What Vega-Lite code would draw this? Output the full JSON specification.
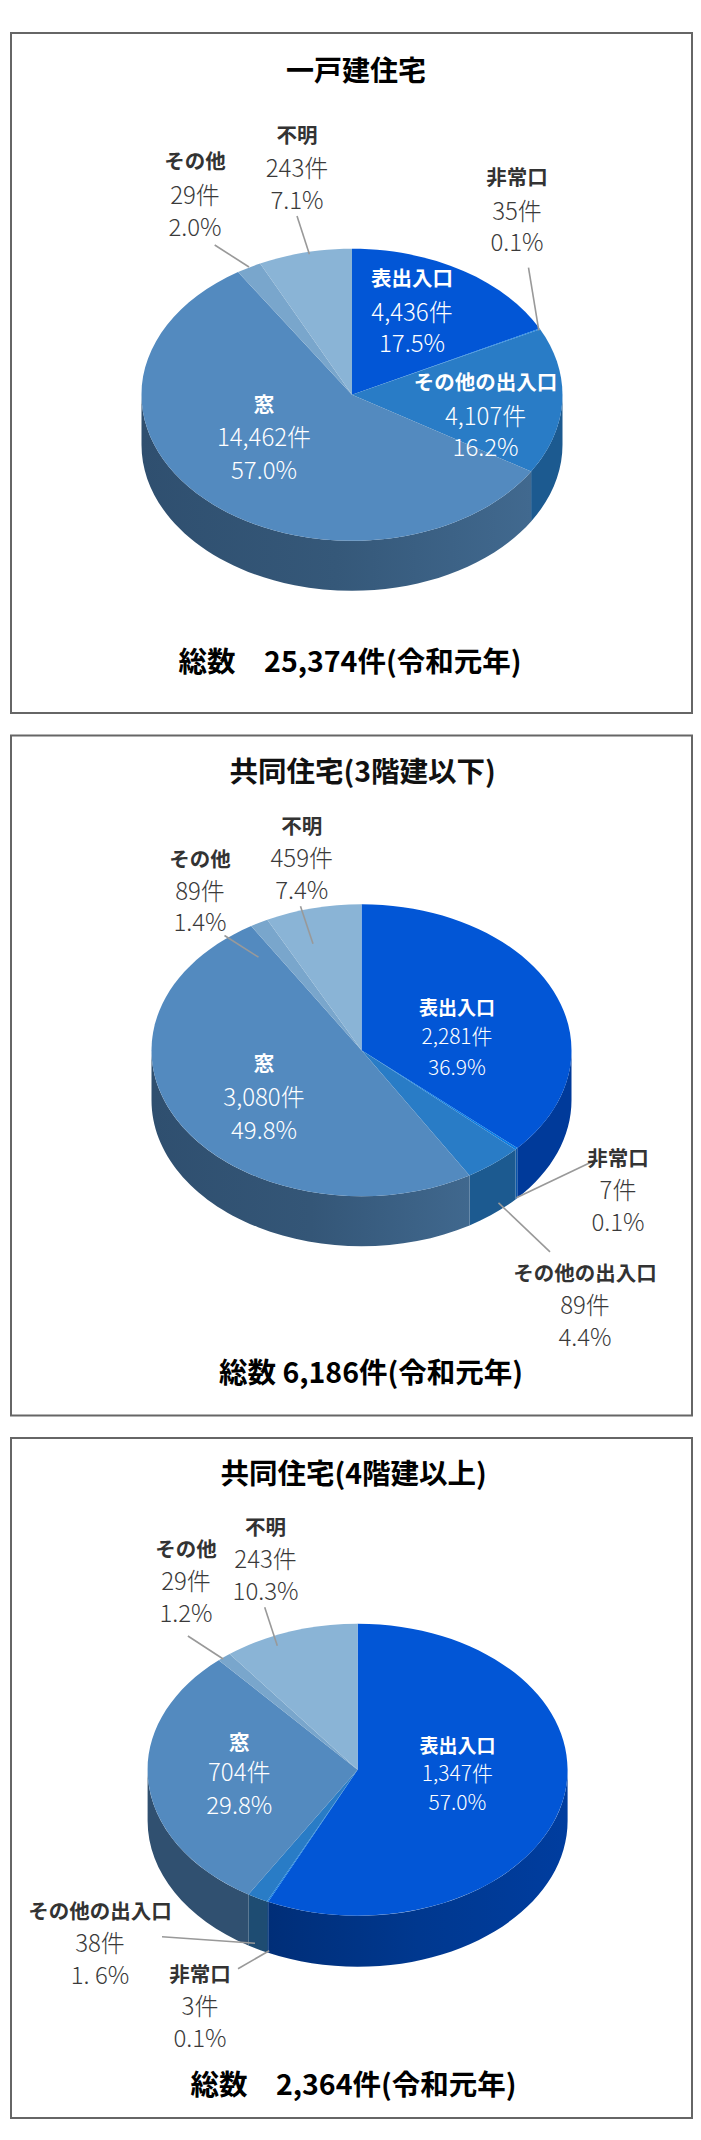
{
"$schema":"https://vega.github.io/schema/vega-lite/v6.json",
"padding":{"left":10,"top":32,"right":0,"bottom":0},
"background":"white",
"config":{"view":{"stroke":"#666666","strokeWidth":2},"font":"Noto Sans CJK JP"},
"datasets":{
"slices":[
{"panel":"一戸建住宅","category":"表出入口","count":4436,"countLabel":"4,436件","share":17.5,"shareLabel":"17.5%"},
{"panel":"一戸建住宅","category":"非常口","count":35,"countLabel":"35件","share":0.1,"shareLabel":"0.1%"},
{"panel":"一戸建住宅","category":"その他の出入口","count":4107,"countLabel":"4,107件","share":16.2,"shareLabel":"16.2%"},
{"panel":"一戸建住宅","category":"窓","count":14462,"countLabel":"14,462件","share":57.0,"shareLabel":"57.0%"},
{"panel":"一戸建住宅","category":"その他","count":29,"countLabel":"29件","share":2.0,"shareLabel":"2.0%"},
{"panel":"一戸建住宅","category":"不明","count":243,"countLabel":"243件","share":7.1,"shareLabel":"7.1%"},
{"panel":"共同住宅(3階建以下)","category":"表出入口","count":2281,"countLabel":"2,281件","share":36.9,"shareLabel":"36.9%"},
{"panel":"共同住宅(3階建以下)","category":"非常口","count":7,"countLabel":"7件","share":0.1,"shareLabel":"0.1%"},
{"panel":"共同住宅(3階建以下)","category":"その他の出入口","count":89,"countLabel":"89件","share":4.4,"shareLabel":"4.4%"},
{"panel":"共同住宅(3階建以下)","category":"窓","count":3080,"countLabel":"3,080件","share":49.8,"shareLabel":"49.8%"},
{"panel":"共同住宅(3階建以下)","category":"その他","count":89,"countLabel":"89件","share":1.4,"shareLabel":"1.4%"},
{"panel":"共同住宅(3階建以下)","category":"不明","count":459,"countLabel":"459件","share":7.4,"shareLabel":"7.4%"},
{"panel":"共同住宅(4階建以上)","category":"表出入口","count":1347,"countLabel":"1,347件","share":57.0,"shareLabel":"57.0%"},
{"panel":"共同住宅(4階建以上)","category":"非常口","count":3,"countLabel":"3件","share":0.1,"shareLabel":"0.1%"},
{"panel":"共同住宅(4階建以上)","category":"その他の出入口","count":38,"countLabel":"38件","share":1.6,"shareLabel":"1. 6%"},
{"panel":"共同住宅(4階建以上)","category":"窓","count":704,"countLabel":"704件","share":29.8,"shareLabel":"29.8%"},
{"panel":"共同住宅(4階建以上)","category":"その他","count":29,"countLabel":"29件","share":1.2,"shareLabel":"1.2%"},
{"panel":"共同住宅(4階建以上)","category":"不明","count":243,"countLabel":"243件","share":10.3,"shareLabel":"10.3%"}
],
"captions":[
{"panel":"一戸建住宅","title":"一戸建住宅","total":"総数　25,374件(令和元年)"},
{"panel":"共同住宅(3階建以下)","title":"共同住宅(3階建以下)","total":"総数 6,186件(令和元年)"},
{"panel":"共同住宅(4階建以上)","title":"共同住宅(4階建以上)","total":"総数　2,364件(令和元年)"}
]},
"resolve":{"scale":{"shape":"independent","x":"independent","y":"independent"}},
"spacing":20.5,
"vconcat":[
{"width":681,"height":680,
"data":{"name":"slices"},
"transform":[{"filter":"datum.panel==='一戸建住宅'"},
{"calculate":"{'表出入口':[401,247.3,279,310.7],'非常口':[506,146.3,178,209.7],'その他の出入口':[474.6,350.7,383,414.7],'窓':[253,373,404.7,437],'その他':[184,130.3,162.3,194],'不明':[286,103.7,135.3,167.3]}[datum.category]","as":"p"},
{"calculate":"{'非常口':[517.5,234.7,527.8,297.3],'その他':[203.7,212,238,234],'不明':[286,183,298.4,221.3]}[datum.category]","as":"q"},
{"calculate":"datum.p[0]","as":"lx"},{"calculate":"datum.p[1]","as":"l0"},{"calculate":"datum.p[2]","as":"l1"},{"calculate":"datum.p[3]","as":"l2"},
{"calculate":"datum.q?datum.q[0]:null","as":"ax"},{"calculate":"datum.q?datum.q[1]:null","as":"ay"},{"calculate":"datum.q?datum.q[2]:null","as":"bx"},{"calculate":"datum.q?datum.q[3]:null","as":"by"}],
"layer":[
{"transform":[{"filter":"datum.category==='その他の出入口'"}],"mark":{"type":"point","filled":true,"opacity":1,"size":4,"fill":"#1C5A90","shape":"M210.5,0 A210.5,146 0 0 1 179.1,76.7 L179.1,126.7 A210.5,146 0 0 0 210.5,50 Z"},"encoding":{"x":{"datum":341,"type":"quantitative","scale":{"domain":[0,681],"nice":false,"zero":false},"axis":null},"y":{"datum":361.8,"type":"quantitative","scale":{"domain":[680,0],"nice":false,"zero":false},"axis":null}}},
{"transform":[{"filter":"datum.category==='窓'"}],"mark":{"type":"point","filled":true,"opacity":1,"size":4,"fill":{"gradient":"linear","x1":0,"y1":0,"x2":1,"y2":0,"stops":[{"offset":0,"color":"#2F4F6F"},{"offset":0.5,"color":"#355879"},{"offset":1,"color":"#41698F"}]},"shape":"M179.1,76.7 A210.5,146 0 0 1 -210.5,0 L-210.5,50 A210.5,146 0 0 0 179.1,126.7 Z"},"encoding":{"x":{"datum":341,"type":"quantitative","scale":{"domain":[0,681],"nice":false,"zero":false},"axis":null},"y":{"datum":361.8,"type":"quantitative","scale":{"domain":[680,0],"nice":false,"zero":false},"axis":null}}},
{"mark":{"type":"point","filled":true,"opacity":1,"size":4},"encoding":{"x":{"datum":341,"type":"quantitative","scale":{"domain":[0,681],"nice":false,"zero":false},"axis":null},"y":{"datum":361.8,"type":"quantitative","scale":{"domain":[680,0],"nice":false,"zero":false},"axis":null},
"color":{"field":"category","type":"nominal","legend":null,"scale":{"domain":["表出入口","非常口","その他の出入口","窓","その他","不明"],"range":["#0256D6","#0A7CE4","#297CC6","#538ABF","#79A6CC","#8AB4D6"]}},
"shape":{"field":"category","type":"nominal","legend":null,"scale":{"domain":["表出入口","非常口","その他の出入口","窓","その他","不明"],"range":["M0,0 L0,-146 A210.5,146 0 0 1 187.6,-66.3 Z","M0,0 L187.6,-66.3 A210.5,146 0 0 1 188.1,-65.5 Z","M0,0 L188.1,-65.5 A210.5,146 0 0 1 179.1,76.7 Z","M0,0 L179.1,76.7 A210.5,146 0 0 1 -210.5,0 A210.5,146 0 0 1 -114,-122.7 Z","M0,0 L-114,-122.7 A210.5,146 0 0 1 -91.9,-131.3 Z","M0,0 L-91.9,-131.3 A210.5,146 0 0 1 0,-146 Z"]}}}},
{"transform":[{"filter":"datum.q"}],"mark":{"type":"rule","color":"#999999","strokeWidth":1.6},"encoding":{"x":{"field":"ax","type":"quantitative","scale":{"domain":[0,681],"nice":false,"zero":false},"axis":null},"y":{"field":"ay","type":"quantitative","scale":{"domain":[680,0],"nice":false,"zero":false},"axis":null},"x2":{"field":"bx"},"y2":{"field":"by"}}},
{"mark":{"type":"text","fontWeight":"bold","fontSize":20.5,"baseline":"middle"},"encoding":{"x":{"field":"lx","type":"quantitative","scale":{"domain":[0,681],"nice":false,"zero":false},"axis":null},"y":{"field":"l0","type":"quantitative","scale":{"domain":[680,0],"nice":false,"zero":false},"axis":null},"text":{"field":"category"},"color":{"condition":{"test":"datum.category==='表出入口'||datum.category==='その他の出入口'||datum.category==='窓'","value":"#ffffff"},"value":"#333333"}}},
{"mark":{"type":"text","fontWeight":300,"fontSize":24,"baseline":"middle","dy":1.5},"encoding":{"x":{"field":"lx","type":"quantitative","scale":{"domain":[0,681],"nice":false,"zero":false},"axis":null},"y":{"field":"l1","type":"quantitative","scale":{"domain":[680,0],"nice":false,"zero":false},"axis":null},"text":{"field":"countLabel"},"color":{"condition":{"test":"datum.category==='表出入口'||datum.category==='その他の出入口'||datum.category==='窓'","value":"#ffffff"},"value":"#3a3a3a"}}},
{"mark":{"type":"text","fontWeight":300,"fontSize":24,"baseline":"middle","dy":1.5},"encoding":{"x":{"field":"lx","type":"quantitative","scale":{"domain":[0,681],"nice":false,"zero":false},"axis":null},"y":{"field":"l2","type":"quantitative","scale":{"domain":[680,0],"nice":false,"zero":false},"axis":null},"text":{"field":"shareLabel"},"color":{"condition":{"test":"datum.category==='表出入口'||datum.category==='その他の出入口'||datum.category==='窓'","value":"#ffffff"},"value":"#3a3a3a"}}},
{"data":{"name":"captions"},"transform":[{"filter":"datum.panel==='一戸建住宅'"}],"mark":{"type":"text","fontWeight":"bold","fontSize":28,"baseline":"middle","color":"#000000","dy":1},"encoding":{"x":{"datum":345,"type":"quantitative","scale":{"domain":[0,681],"nice":false,"zero":false},"axis":null},"y":{"datum":38.7,"type":"quantitative","scale":{"domain":[680,0],"nice":false,"zero":false},"axis":null},"text":{"field":"title"}}},
{"data":{"name":"captions"},"transform":[{"filter":"datum.panel==='一戸建住宅'"}],"mark":{"type":"text","fontWeight":"bold","fontSize":28.5,"baseline":"middle","color":"#000000"},"encoding":{"x":{"datum":339,"type":"quantitative","scale":{"domain":[0,681],"nice":false,"zero":false},"axis":null},"y":{"datum":630,"type":"quantitative","scale":{"domain":[680,0],"nice":false,"zero":false},"axis":null},"text":{"field":"total"}}}
]},
{"width":681,"height":680,
"data":{"name":"slices"},
"transform":[{"filter":"datum.panel==='共同住宅(3階建以下)'"},
{"calculate":"{'表出入口':[446,271.7,300,331],'非常口':[607,422.3,454.3,486],'その他の出入口':[574,537.7,569.3,601.7],'窓':[253,327,361.7,394],'その他':[189,123.3,155,186.7],'不明':[290.8,90.7,122.3,154.3]}[datum.category]","as":"p"},
{"calculate":"{'非常口':[580,426.7,505.4,462.3],'その他の出入口':[539,516.3,487.5,467.3],'その他':[213.5,200,247.5,221.7],'不明':[289.5,170.7,302,208.3]}[datum.category]","as":"q"},
{"calculate":"datum.p[0]","as":"lx"},{"calculate":"datum.p[1]","as":"l0"},{"calculate":"datum.p[2]","as":"l1"},{"calculate":"datum.p[3]","as":"l2"},
{"calculate":"datum.q?datum.q[0]:null","as":"ax"},{"calculate":"datum.q?datum.q[1]:null","as":"ay"},{"calculate":"datum.q?datum.q[2]:null","as":"bx"},{"calculate":"datum.q?datum.q[3]:null","as":"by"}],
"layer":[
{"transform":[{"filter":"datum.category==='表出入口'"}],"mark":{"type":"point","filled":true,"opacity":1,"size":4,"fill":"#003A9A","shape":"M210,0 A210,146 0 0 1 155.8,97.9 L155.8,147.9 A210,146 0 0 0 210,50 Z"},"encoding":{"x":{"datum":350.5,"type":"quantitative","scale":{"domain":[0,681],"nice":false,"zero":false},"axis":null},"y":{"datum":314.7,"type":"quantitative","scale":{"domain":[680,0],"nice":false,"zero":false},"axis":null}}},
{"transform":[{"filter":"datum.category==='非常口'"}],"mark":{"type":"point","filled":true,"opacity":1,"size":4,"fill":"#0A55A8","shape":"M155.8,97.9 A210,146 0 0 1 154,99.3 L154,149.3 A210,146 0 0 0 155.8,147.9 Z"},"encoding":{"x":{"datum":350.5,"type":"quantitative","scale":{"domain":[0,681],"nice":false,"zero":false},"axis":null},"y":{"datum":314.7,"type":"quantitative","scale":{"domain":[680,0],"nice":false,"zero":false},"axis":null}}},
{"transform":[{"filter":"datum.category==='その他の出入口'"}],"mark":{"type":"point","filled":true,"opacity":1,"size":4,"fill":"#1C5A90","shape":"M154,99.3 A210,146 0 0 1 108,125.2 L108,175.2 A210,146 0 0 0 154,149.3 Z"},"encoding":{"x":{"datum":350.5,"type":"quantitative","scale":{"domain":[0,681],"nice":false,"zero":false},"axis":null},"y":{"datum":314.7,"type":"quantitative","scale":{"domain":[680,0],"nice":false,"zero":false},"axis":null}}},
{"transform":[{"filter":"datum.category==='窓'"}],"mark":{"type":"point","filled":true,"opacity":1,"size":4,"fill":{"gradient":"linear","x1":0,"y1":0,"x2":1,"y2":0,"stops":[{"offset":0,"color":"#2F4F6F"},{"offset":0.5,"color":"#345677"},{"offset":1,"color":"#40688E"}]},"shape":"M108,125.2 A210,146 0 0 1 -210,0 L-210,50 A210,146 0 0 0 108,175.2 Z"},"encoding":{"x":{"datum":350.5,"type":"quantitative","scale":{"domain":[0,681],"nice":false,"zero":false},"axis":null},"y":{"datum":314.7,"type":"quantitative","scale":{"domain":[680,0],"nice":false,"zero":false},"axis":null}}},
{"mark":{"type":"point","filled":true,"opacity":1,"size":4},"encoding":{"x":{"datum":350.5,"type":"quantitative","scale":{"domain":[0,681],"nice":false,"zero":false},"axis":null},"y":{"datum":314.7,"type":"quantitative","scale":{"domain":[680,0],"nice":false,"zero":false},"axis":null},
"color":{"field":"category","type":"nominal","legend":null,"scale":{"domain":["表出入口","非常口","その他の出入口","窓","その他","不明"],"range":["#0256D6","#0A7CE4","#297CC6","#538ABF","#79A6CC","#8AB4D6"]}},
"shape":{"field":"category","type":"nominal","legend":null,"scale":{"domain":["表出入口","非常口","その他の出入口","窓","その他","不明"],"range":["M0,0 L0,-146 A210,146 0 0 1 155.8,97.9 Z","M0,0 L155.8,97.9 A210,146 0 0 1 154,99.3 Z","M0,0 L154,99.3 A210,146 0 0 1 108,125.2 Z","M0,0 L108,125.2 A210,146 0 0 1 -210,0 A210,146 0 0 1 -110.3,-124.2 Z","M0,0 L-110.3,-124.2 A210,146 0 0 1 -94.2,-130.5 Z","M0,0 L-94.2,-130.5 A210,146 0 0 1 0,-146 Z"]}}}},
{"transform":[{"filter":"datum.q"}],"mark":{"type":"rule","color":"#999999","strokeWidth":1.6},"encoding":{"x":{"field":"ax","type":"quantitative","scale":{"domain":[0,681],"nice":false,"zero":false},"axis":null},"y":{"field":"ay","type":"quantitative","scale":{"domain":[680,0],"nice":false,"zero":false},"axis":null},"x2":{"field":"bx"},"y2":{"field":"by"}}},
{"mark":{"type":"text","fontWeight":"bold","baseline":"middle","dy":2},"encoding":{"x":{"field":"lx","type":"quantitative","scale":{"domain":[0,681],"nice":false,"zero":false},"axis":null},"y":{"field":"l0","type":"quantitative","scale":{"domain":[680,0],"nice":false,"zero":false},"axis":null},"text":{"field":"category"},"size":{"condition":{"test":"datum.category==='表出入口'","value":19},"value":20.5},"color":{"condition":{"test":"datum.category==='表出入口'||datum.category==='窓'","value":"#ffffff"},"value":"#333333"}}},
{"mark":{"type":"text","fontWeight":300,"baseline":"middle","dy":2},"encoding":{"x":{"field":"lx","type":"quantitative","scale":{"domain":[0,681],"nice":false,"zero":false},"axis":null},"y":{"field":"l1","type":"quantitative","scale":{"domain":[680,0],"nice":false,"zero":false},"axis":null},"text":{"field":"countLabel"},"size":{"condition":{"test":"datum.category==='表出入口'","value":21},"value":24},"color":{"condition":{"test":"datum.category==='表出入口'||datum.category==='窓'","value":"#ffffff"},"value":"#3a3a3a"}}},
{"mark":{"type":"text","fontWeight":300,"baseline":"middle","dy":2},"encoding":{"x":{"field":"lx","type":"quantitative","scale":{"domain":[0,681],"nice":false,"zero":false},"axis":null},"y":{"field":"l2","type":"quantitative","scale":{"domain":[680,0],"nice":false,"zero":false},"axis":null},"text":{"field":"shareLabel"},"size":{"condition":{"test":"datum.category==='表出入口'","value":21},"value":24},"color":{"condition":{"test":"datum.category==='表出入口'||datum.category==='窓'","value":"#ffffff"},"value":"#3a3a3a"}}},
{"data":{"name":"captions"},"transform":[{"filter":"datum.panel==='共同住宅(3階建以下)'"}],"mark":{"type":"text","fontWeight":"bold","fontSize":28.5,"baseline":"middle","color":"#111111","dy":2},"encoding":{"x":{"datum":351.7,"type":"quantitative","scale":{"domain":[0,681],"nice":false,"zero":false},"axis":null},"y":{"datum":35,"type":"quantitative","scale":{"domain":[680,0],"nice":false,"zero":false},"axis":null},"text":{"field":"title"}}},
{"data":{"name":"captions"},"transform":[{"filter":"datum.panel==='共同住宅(3階建以下)'"}],"mark":{"type":"text","fontWeight":"bold","fontSize":28.5,"baseline":"middle","color":"#000000","dy":1},"encoding":{"x":{"datum":360,"type":"quantitative","scale":{"domain":[0,681],"nice":false,"zero":false},"axis":null},"y":{"datum":637.7,"type":"quantitative","scale":{"domain":[680,0],"nice":false,"zero":false},"axis":null},"text":{"field":"total"}}}
]},
{"width":681,"height":680,
"data":{"name":"slices"},
"transform":[{"filter":"datum.panel==='共同住宅(4階建以上)'"},
{"calculate":"{'表出入口':[446.4,307,335.3,364.3],'非常口':[189,536.3,568.7,600.3],'その他の出入口':[89,473,505.3,537],'窓':[228.3,304.3,334.7,367.7],'その他':[175,111.3,143.7,175.3],'不明':[254.6,89.7,121.3,153]}[datum.category]","as":"p"},
{"calculate":"{'非常口':[227,530.7,258.2,512.7],'その他の出入口':[151,498.7,244,505.3],'その他':[176.9,198,212.2,221],'不明':[253.7,169.3,266.3,207.7]}[datum.category]","as":"q"},
{"calculate":"datum.p[0]","as":"lx"},{"calculate":"datum.p[1]","as":"l0"},{"calculate":"datum.p[2]","as":"l1"},{"calculate":"datum.p[3]","as":"l2"},
{"calculate":"datum.q?datum.q[0]:null","as":"ax"},{"calculate":"datum.q?datum.q[1]:null","as":"ay"},{"calculate":"datum.q?datum.q[2]:null","as":"bx"},{"calculate":"datum.q?datum.q[3]:null","as":"by"}],
"layer":[
{"transform":[{"filter":"datum.category==='表出入口'"}],"mark":{"type":"point","filled":true,"opacity":1,"size":4,"fill":{"gradient":"linear","x1":0,"y1":0,"x2":1,"y2":0,"stops":[{"offset":0,"color":"#002E78"},{"offset":0.5,"color":"#00388F"},{"offset":1,"color":"#003D9F"}]},"shape":"M210,0 A210,146 0 0 1 0,146 A210,146 0 0 1 -89.4,132.1 L-89.4,183.1 A210,146 0 0 0 0,197 A210,146 0 0 0 210,51 Z"},"encoding":{"x":{"datum":346.6,"type":"quantitative","scale":{"domain":[0,681],"nice":false,"zero":false},"axis":null},"y":{"datum":331.7,"type":"quantitative","scale":{"domain":[680,0],"nice":false,"zero":false},"axis":null}}},
{"transform":[{"filter":"datum.category==='非常口'"}],"mark":{"type":"point","filled":true,"opacity":1,"size":4,"fill":"#1A4A80","shape":"M-89.4,132.1 A210,146 0 0 1 -90.6,131.7 L-90.6,182.7 A210,146 0 0 0 -89.4,183.1 Z"},"encoding":{"x":{"datum":346.6,"type":"quantitative","scale":{"domain":[0,681],"nice":false,"zero":false},"axis":null},"y":{"datum":331.7,"type":"quantitative","scale":{"domain":[680,0],"nice":false,"zero":false},"axis":null}}},
{"transform":[{"filter":"datum.category==='その他の出入口'"}],"mark":{"type":"point","filled":true,"opacity":1,"size":4,"fill":"#1E4C72","shape":"M-90.6,131.7 A210,146 0 0 1 -109.2,124.7 L-109.2,175.7 A210,146 0 0 0 -90.6,182.7 Z"},"encoding":{"x":{"datum":346.6,"type":"quantitative","scale":{"domain":[0,681],"nice":false,"zero":false},"axis":null},"y":{"datum":331.7,"type":"quantitative","scale":{"domain":[680,0],"nice":false,"zero":false},"axis":null}}},
{"transform":[{"filter":"datum.category==='窓'"}],"mark":{"type":"point","filled":true,"opacity":1,"size":4,"fill":"#305070","shape":"M-109.2,124.7 A210,146 0 0 1 -210,0 L-210,51 A210,146 0 0 0 -109.2,175.7 Z"},"encoding":{"x":{"datum":346.6,"type":"quantitative","scale":{"domain":[0,681],"nice":false,"zero":false},"axis":null},"y":{"datum":331.7,"type":"quantitative","scale":{"domain":[680,0],"nice":false,"zero":false},"axis":null}}},
{"mark":{"type":"point","filled":true,"opacity":1,"size":4},"encoding":{"x":{"datum":346.6,"type":"quantitative","scale":{"domain":[0,681],"nice":false,"zero":false},"axis":null},"y":{"datum":331.7,"type":"quantitative","scale":{"domain":[680,0],"nice":false,"zero":false},"axis":null},
"color":{"field":"category","type":"nominal","legend":null,"scale":{"domain":["表出入口","非常口","その他の出入口","窓","その他","不明"],"range":["#0256D6","#0A7CE4","#297CC6","#538ABF","#79A6CC","#8AB4D6"]}},
"shape":{"field":"category","type":"nominal","legend":null,"scale":{"domain":["表出入口","非常口","その他の出入口","窓","その他","不明"],"range":["M0,0 L0,-146 A210,146 0 0 1 210,0 A210,146 0 0 1 -89.4,132.1 Z","M0,0 L-89.4,132.1 A210,146 0 0 1 -90.6,131.7 Z","M0,0 L-90.6,131.7 A210,146 0 0 1 -109.2,124.7 Z","M0,0 L-109.2,124.7 A210,146 0 0 1 -138.9,-109.5 Z","M0,0 L-138.9,-109.5 A210,146 0 0 1 -128,-115.7 Z","M0,0 L-128,-115.7 A210,146 0 0 1 0,-146 Z"]}}}},
{"transform":[{"filter":"datum.q"}],"mark":{"type":"rule","color":"#999999","strokeWidth":1.6},"encoding":{"x":{"field":"ax","type":"quantitative","scale":{"domain":[0,681],"nice":false,"zero":false},"axis":null},"y":{"field":"ay","type":"quantitative","scale":{"domain":[680,0],"nice":false,"zero":false},"axis":null},"x2":{"field":"bx"},"y2":{"field":"by"}}},
{"mark":{"type":"text","fontWeight":"bold","baseline":"middle","dy":1.5},"encoding":{"x":{"field":"lx","type":"quantitative","scale":{"domain":[0,681],"nice":false,"zero":false},"axis":null},"y":{"field":"l0","type":"quantitative","scale":{"domain":[680,0],"nice":false,"zero":false},"axis":null},"text":{"field":"category"},"size":{"condition":{"test":"datum.category==='表出入口'","value":19},"value":20.5},"color":{"condition":{"test":"datum.category==='表出入口'||datum.category==='窓'","value":"#ffffff"},"value":"#333333"}}},
{"mark":{"type":"text","fontWeight":300,"baseline":"middle","dy":1.5},"encoding":{"x":{"field":"lx","type":"quantitative","scale":{"domain":[0,681],"nice":false,"zero":false},"axis":null},"y":{"field":"l1","type":"quantitative","scale":{"domain":[680,0],"nice":false,"zero":false},"axis":null},"text":{"field":"countLabel"},"size":{"condition":{"test":"datum.category==='表出入口'","value":21},"value":24},"color":{"condition":{"test":"datum.category==='表出入口'||datum.category==='窓'","value":"#ffffff"},"value":"#3a3a3a"}}},
{"mark":{"type":"text","fontWeight":300,"baseline":"middle","dy":1.5},"encoding":{"x":{"field":"lx","type":"quantitative","scale":{"domain":[0,681],"nice":false,"zero":false},"axis":null},"y":{"field":"l2","type":"quantitative","scale":{"domain":[680,0],"nice":false,"zero":false},"axis":null},"text":{"field":"shareLabel"},"size":{"condition":{"test":"datum.category==='表出入口'","value":21},"value":24},"color":{"condition":{"test":"datum.category==='表出入口'||datum.category==='窓'","value":"#ffffff"},"value":"#3a3a3a"}}},
{"data":{"name":"captions"},"transform":[{"filter":"datum.panel==='共同住宅(4階建以上)'"}],"mark":{"type":"text","fontWeight":"bold","fontSize":28.5,"baseline":"middle","color":"#000000","dy":2},"encoding":{"x":{"datum":342.7,"type":"quantitative","scale":{"domain":[0,681],"nice":false,"zero":false},"axis":null},"y":{"datum":35.3,"type":"quantitative","scale":{"domain":[680,0],"nice":false,"zero":false},"axis":null},"text":{"field":"title"}}},
{"data":{"name":"captions"},"transform":[{"filter":"datum.panel==='共同住宅(4階建以上)'"}],"mark":{"type":"text","fontWeight":"bold","fontSize":28.5,"baseline":"middle","color":"#000000","dy":1.5},"encoding":{"x":{"datum":342.5,"type":"quantitative","scale":{"domain":[0,681],"nice":false,"zero":false},"axis":null},"y":{"datum":646.3,"type":"quantitative","scale":{"domain":[680,0],"nice":false,"zero":false},"axis":null},"text":{"field":"total"}}}
]}
]}
